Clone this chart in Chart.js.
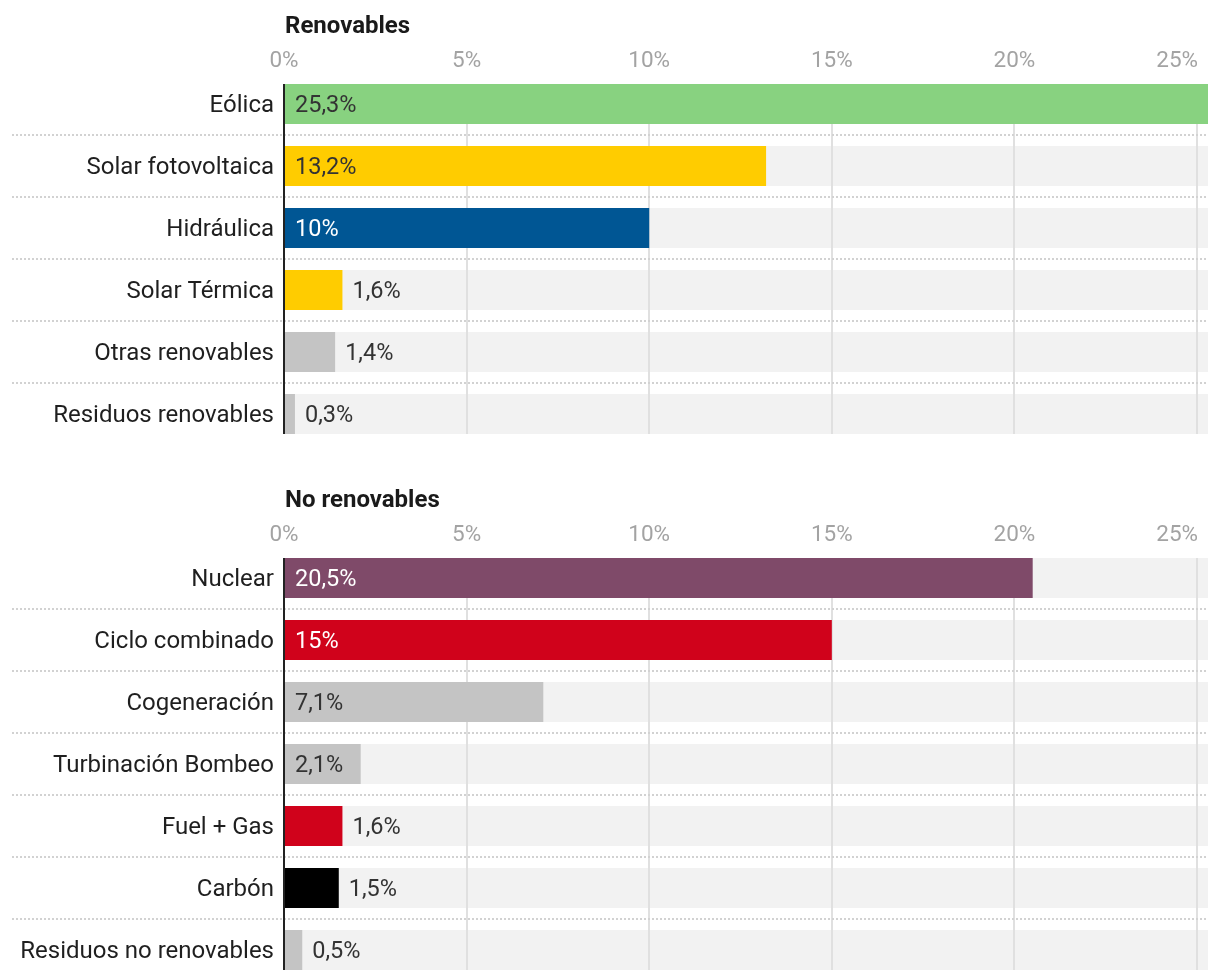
<!DOCTYPE html>
<html><head><meta charset="utf-8">
<script src="https://cdn.jsdelivr.net/npm/chart.js@4.4.1/dist/chart.umd.min.js"></script>
<style>
html,body{margin:0;padding:0;background:#fff;overflow:hidden;}
body{width:1220px;height:980px;position:relative;}
canvas{position:absolute;left:0;display:block;}
#c1{top:0;}
#c2{top:474px;}
</style></head><body>
<canvas id="c1" width="1220" height="445"></canvas>
<canvas id="c2" width="1220" height="507"></canvas>
<script>
// ---- data ----
const renovTitle = 'Renovables';
const renovCategories = ['Eólica', 'Solar fotovoltaica', 'Hidráulica', 'Solar Térmica', 'Otras renovables', 'Residuos renovables'];
const renovValues = [25.3, 13.2, 10, 1.6, 1.4, 0.3];
const renovColors = ['#88d280', '#ffcc00', '#005694', '#ffcc00', '#c4c4c4', '#c4c4c4'];

const noRenovTitle = 'No renovables';
const noRenovCategories = ['Nuclear', 'Ciclo combinado', 'Cogeneración', 'Turbinación Bombeo', 'Fuel + Gas', 'Carbón', 'Residuos no renovables'];
const noRenovValues = [20.5, 15, 7.1, 2.1, 1.6, 1.5, 0.5];
const noRenovColors = ['#7f4a69', '#d0021b', '#c4c4c4', '#c4c4c4', '#d0021b', '#000000', '#c4c4c4'];

const tickValues = [0, 5, 10, 15, 20, 25];
const axisMax = 25.3;

// ---- style ----
const FONT = 'Roboto, "Noto Sans", "DejaVu Sans", sans-serif';
const AXIS_LEFT = 284;
const RIGHT_PAD = 12;
const HEADER = 73;
const INSIDE_MIN = 2;

function fmt(v) { return String(v).replace('.', ',') + '%'; }
function isDark(hex) {
  const r = parseInt(hex.slice(1, 3), 16), g = parseInt(hex.slice(3, 5), 16), b = parseInt(hex.slice(5, 7), 16);
  return (0.299 * r + 0.587 * g + 0.114 * b) < 140;
}

const panelPlugin = {
  id: 'panel',
  beforeDraw(chart) {
    // right-align the last x tick label against its tick so it stays inside the plot
    const xs = chart.scales.x;
    const items = xs.getLabelItems(chart.chartArea);
    const lastItem = items[items.length - 1];
    if (lastItem && lastItem.options) {
      lastItem.options.textAlign = 'right';
      lastItem.options.translation[0] = xs.getPixelForValue(tickValues[tickValues.length - 1]) + 1;
    }
  },
  afterDatasetDraw(chart, args) {
    if (args.index !== 1) return;
    const ctx = chart.ctx;
    const xs = chart.scales.x;
    const bars = chart.getDatasetMeta(0).data;
    const first = bars[0].getProps(['y', 'height'], true);
    const last = bars[bars.length - 1].getProps(['y', 'height'], true);
    const top = first.y - first.height / 2, bottom = last.y + last.height / 2;
    ctx.save();
    ctx.strokeStyle = '#e0e0e0';
    ctx.lineWidth = 2;
    tickValues.forEach(t => {
      if (t === 0) return;
      const x = Math.round(xs.getPixelForValue(t));
      ctx.beginPath(); ctx.moveTo(x, top); ctx.lineTo(x, bottom); ctx.stroke();
    });
    ctx.restore();
  },
  afterDatasetsDraw(chart, args, opts) {
    const ctx = chart.ctx;
    const ca = chart.chartArea;
    const xs = chart.scales.x;
    const meta = chart.getDatasetMeta(0);
    const bars = meta.data;
    const ds = chart.data.datasets[0];
    const first = bars[0].getProps(['y', 'height'], true);
    const last = bars[bars.length - 1].getProps(['y', 'height'], true);
    ctx.save();
    ctx.strokeStyle = '#d2d2d2';
    ctx.lineWidth = 2;
    ctx.setLineDash([2, 2]);
    for (let i = 0; i < bars.length - 1; i++) {
      const y = Math.round((bars[i].y + bars[i + 1].y) / 2);
      ctx.beginPath(); ctx.moveTo(12, y); ctx.lineTo(ca.right, y); ctx.stroke();
    }
    ctx.setLineDash([]);
    ctx.strokeStyle = '#222222';
    ctx.lineWidth = 2;
    const ax = Math.round(xs.getPixelForValue(0));
    ctx.beginPath(); ctx.moveTo(ax, first.y - first.height / 2); ctx.lineTo(ax, last.y + last.height / 2); ctx.stroke();
    ctx.font = '23.5px ' + FONT;
    ctx.textBaseline = 'middle';
    ctx.textAlign = 'left';
    bars.forEach((bar, i) => {
      const v = ds.data[i];
      const p = bar.getProps(['x', 'y', 'base'], true);
      const inside = v >= INSIDE_MIN;
      const col = ds.backgroundColor[i];
      ctx.fillStyle = inside && isDark(col) ? '#ffffff' : '#333333';
      const x = inside ? p.base + 11 : p.x + 10;
      ctx.fillText(fmt(v), x, p.y + 2);
    });
    ctx.font = 'bold 24px ' + FONT;
    ctx.fillStyle = '#1a1a1a';
    ctx.textBaseline = 'middle';
    ctx.fillText(opts.title, ca.left + 1, 27);
    ctx.restore();
  }
};

function makeChart(id, title, cats, vals, cols) {
  return new Chart(document.getElementById(id), {
    type: 'bar',
    data: {
      labels: cats,
      datasets: [
        { data: vals, backgroundColor: cols, order: 0, grouped: false,
          barPercentage: 40 / 62, categoryPercentage: 1 },
        { data: cats.map(() => axisMax), backgroundColor: '#f2f2f2', order: 1, grouped: false,
          barPercentage: 40 / 62, categoryPercentage: 1 }
      ]
    },
    plugins: [panelPlugin],
    options: {
      indexAxis: 'y',
      responsive: false,
      animation: false,
      layout: { padding: { left: 0, right: RIGHT_PAD, top: 0, bottom: 0 } },
      plugins: {
        legend: { display: false },
        tooltip: { enabled: false },
        panel: { title: title }
      },
      scales: {
        x: {
          position: 'top',
          min: 0, max: axisMax,
          afterBuildTicks: s => { s.ticks = tickValues.map(v => ({ value: v })); },
          afterFit: s => { s.height = HEADER; s.paddingLeft = 0; s.paddingRight = 0; },
          grid: { display: false, drawTicks: false },
          border: { display: false },
          ticks: {
            callback: v => v + '%',
            font: { family: FONT, size: 22.5 },
            color: '#a3a3a3',
            padding: -2,
            maxRotation: 0
          }
        },
        y: {
          afterFit: s => { s.width = AXIS_LEFT; s.paddingTop = 0; s.paddingBottom = 0; },
          grid: { display: false, drawTicks: false },
          border: { display: false },
          ticks: {
            font: { family: FONT, size: 24 },
            color: '#1f1f1f',
            padding: 10,
            labelOffset: 2
          }
        }
      }
    }
  });
}

makeChart('c1', renovTitle, renovCategories, renovValues, renovColors);
makeChart('c2', noRenovTitle, noRenovCategories, noRenovValues, noRenovColors);
</script>
</body></html>
